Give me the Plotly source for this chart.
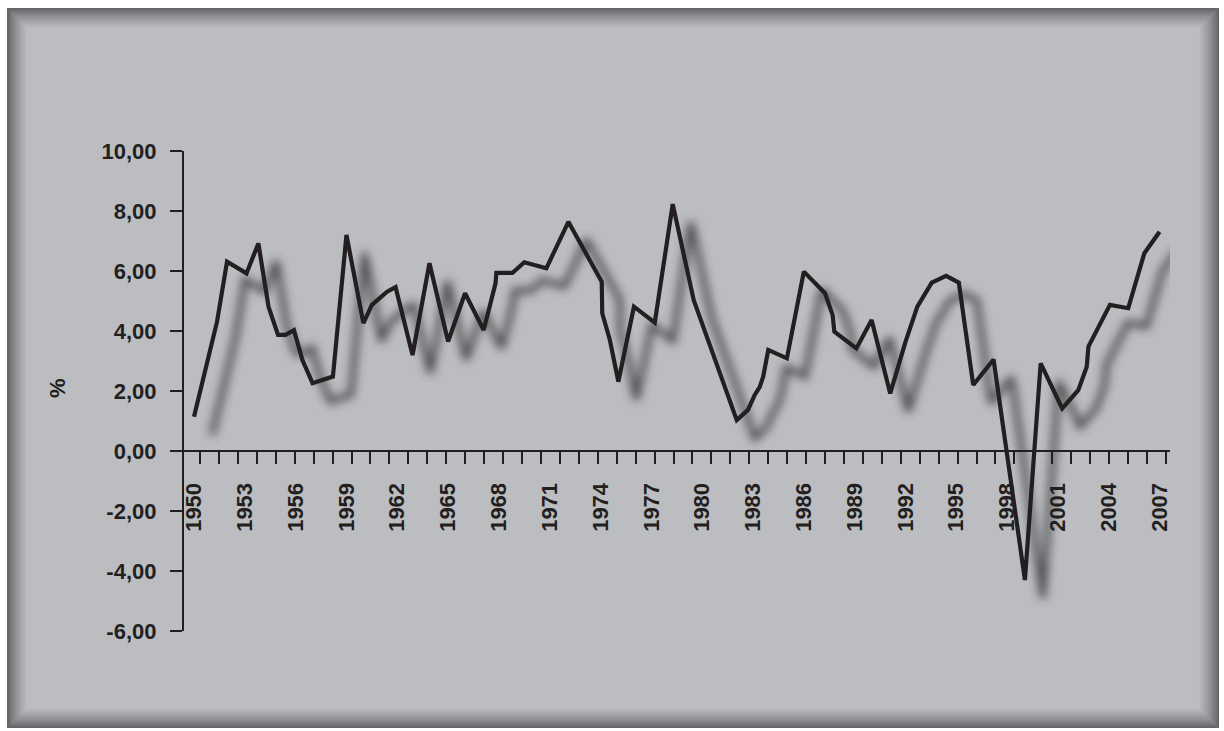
import plotly.graph_objects as go

# ---- data (x = position along the year axis) ----
years = [1950.0, 1951.36, 1951.95, 1953.1, 1953.8, 1954.4, 1954.96, 1955.4, 1955.9, 1956.4,
         1957.0, 1958.2, 1959.0, 1960.0, 1960.5, 1961.4, 1961.9, 1962.9, 1963.9, 1965.0,
         1966.0, 1967.1, 1967.8, 1967.85, 1968.8, 1969.5, 1970.8, 1972.1, 1974.07, 1974.1,
         1974.55, 1975.05, 1975.97, 1977.2, 1978.26, 1979.5, 1982.04, 1982.7, 1983.1, 1983.4,
         1983.6, 1983.9, 1985.0, 1986.0, 1987.25, 1987.7, 1987.8, 1989.1, 1990.0, 1991.1,
         1992.0, 1992.7, 1993.55, 1994.4, 1995.15, 1996.0, 1997.2, 1999.05, 1999.98, 2001.25,
         2002.2, 2002.7, 2002.8, 2004.07, 2005.15, 2006.1, 2007.0]
growth = [1.14, 4.31, 6.31, 5.92, 6.92, 4.81, 3.87, 3.87, 4.03, 3.03,
          2.26, 2.48, 7.20, 4.26, 4.87, 5.31, 5.46, 3.20, 6.26, 3.65,
          5.26, 4.03, 5.59, 5.94, 5.94, 6.29, 6.09, 7.64, 5.64, 4.59,
          3.70, 2.31, 4.81, 4.28, 8.23, 5.03, 1.03, 1.37, 1.87, 2.14,
          2.48, 3.37, 3.09, 5.98, 5.26, 4.53, 3.98, 3.42, 4.37, 1.92,
          3.64, 4.81, 5.61, 5.84, 5.61, 2.20, 3.05, -4.30, 2.92, 1.42,
          2.03, 2.81, 3.48, 4.87, 4.76, 6.59, 7.31]
label_years = list(range(1950, 2008, 3))
y_ticks = [-6, -4, -2, 0, 2, 4, 6, 8, 10]
y_title = "%"

# ---- geometry (pixels) ----
W, H = 1224, 731
L, R, T, B = 184, 1170, 151, 631
X0_PX, PX_PER_YEAR = 194, 16.94
PX_PER_UNIT = (B - T) / 16.0
x_range = [1950 + (L - X0_PX) / PX_PER_YEAR, 1950 + (R - X0_PX) / PX_PER_YEAR]
y_range = [-6, 10]
zero_pos = (0 - y_range[0]) / (y_range[1] - y_range[0])

INK = "#231f20"
BG = (188, 189, 193)
DARK = (100, 100, 103)


def px2paper(px, py):
    return (px - L) / (R - L), (B - py) / (B - T)


fig = go.Figure()

# ---- shadow (offset copy of the series, blurred in the page) ----
SHADOW_DX_PX, SHADOW_DY_PX = 18, 18
sx = [v + SHADOW_DX_PX / PX_PER_YEAR for v in years]
sy = [v - SHADOW_DY_PX / PX_PER_UNIT for v in growth]
fig.add_trace(go.Scatter(x=sx, y=sy, mode="lines", xaxis="x", yaxis="y", uid="shadow",
                         line=dict(color="#3c3d40", width=6),
                         opacity=0.9, hoverinfo="skip", showlegend=False))

# ---- main line ----
fig.add_trace(go.Scatter(x=years, y=growth, mode="lines", xaxis="x2", yaxis="y",
                         line=dict(color=INK, width=4.2), showlegend=False))

# ---- bevelled frame ----
shapes = []
N = 12
fx0, fy0, fx1, fy1 = 7, 8, 1219, 728
for i in range(N + 1):
    t = (i / N) ** 0.8
    c = tuple(int(DARK[k] + (BG[k] - DARK[k]) * t) for k in range(3))
    inset = i * 1.6
    ax0, ay0 = px2paper(fx0 + inset, fy0 + inset)
    ax1, ay1 = px2paper(fx1 - inset, fy1 - inset)
    shapes.append(dict(type="rect", xref="paper", yref="paper", layer="below",
                       x0=ax0, y0=ay1, x1=ax1, y1=ay0,
                       fillcolor="rgb(%d,%d,%d)" % c, line=dict(width=0)))

tx, ty = px2paper(57, 388)
annotations = [dict(text=y_title, xref="paper", yref="paper", x=tx, y=ty,
                    xanchor="center", yanchor="middle",
                    showarrow=False, textangle=-90,
                    font=dict(family="Liberation Sans, Arial", size=22, color=INK, weight="bold"))]

font = dict(family="Liberation Sans, Arial", size=22, color=INK, weight="bold")

fig.update_layout(
    width=W, height=H,
    margin=dict(l=L, r=W - R, t=T, b=H - B, pad=0),
    paper_bgcolor="white", plot_bgcolor="rgba(0,0,0,0)",
    shapes=shapes, annotations=annotations, showlegend=False,
    xaxis=dict(range=x_range, anchor="free", position=zero_pos, side="bottom",
               tickmode="array", tickvals=label_years, ticktext=[str(y) for y in label_years],
               tickangle=-90, ticks="outside", ticklen=12, tickcolor="rgba(0,0,0,0)",
               ticklabelstandoff=10, ticklabeloverflow="allow",
               tickfont=font, showgrid=False, zeroline=False,
               showline=True, linecolor=INK, linewidth=2.2),
    xaxis2=dict(range=x_range, overlaying="x", anchor="free", position=zero_pos, side="bottom",
                tickmode="linear", tick0=1950 + 6 / PX_PER_YEAR, dtick=18.94 / PX_PER_YEAR,
                ticks="outside", ticklen=12, tickwidth=2, tickcolor=INK,
                showticklabels=False, showgrid=False, zeroline=False, showline=False),
    yaxis=dict(range=y_range, tickmode="array", tickvals=y_ticks,
               ticktext=[f"{v:.2f}".replace(".", ",") for v in y_ticks],
               ticks="outside", ticklen=12, tickwidth=2, tickcolor=INK,
               ticklabelstandoff=9, tickfont=font,
               showgrid=False, zeroline=False,
               showline=True, linecolor=INK, linewidth=2.2),
)

post = """
document.body.style.margin='0px';
(function(){
  var gd = document.getElementById('{plot_id}');
  function blurShadow(){
    var svg = gd.querySelector('svg.main-svg');
    if(!svg) return;
    var NS = 'http://www.w3.org/2000/svg';
    if(!document.getElementById('shadowblur')){
      var defs = svg.querySelector('defs') || svg.insertBefore(document.createElementNS(NS,'defs'), svg.firstChild);
      var f = document.createElementNS(NS,'filter');
      f.setAttribute('id','shadowblur');
      f.setAttribute('x','-10%'); f.setAttribute('y','-20%');
      f.setAttribute('width','120%'); f.setAttribute('height','140%');
      var b = document.createElementNS(NS,'feGaussianBlur');
      b.setAttribute('stdDeviation','5');
      f.appendChild(b); defs.appendChild(f);
    }
    var g = gd.querySelector('.traceshadow') || gd.querySelector('.scatterlayer .trace');
    if(g) g.setAttribute('filter','url(#shadowblur)');
  }
  blurShadow();
  if(gd.on) gd.on('plotly_afterplot', blurShadow);
  setTimeout(blurShadow, 0);
})();
"""

fig.write_html("out.html", config={"displayModeBar": False}, post_script=post)
